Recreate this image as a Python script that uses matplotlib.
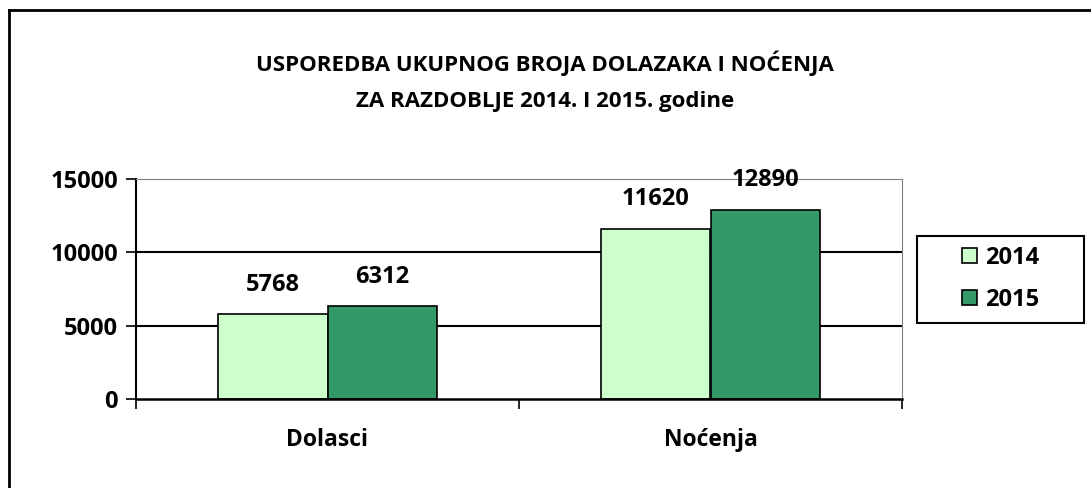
import matplotlib
matplotlib.use('Agg')
import matplotlib.pyplot as plt
import numpy as np
from matplotlib.patches import Rectangle
from matplotlib.lines import Line2D

categories = ['Dolasci', 'Noćenja']
years = ['2014', '2015']
values_2014 = [5768, 11620]
values_2015 = [6312, 12890]
colors = ['#CCFFCC', '#339966']
title = 'USPOREDBA UKUPNOG BROJA DOLAZAKA I NOĆENJA\nZA RAZDOBLJE 2014. I 2015. godine'

plt.rcParams['font.family'] = ['Open Sans', 'DejaVu Sans']
plt.rcParams['font.weight'] = 'bold'

W, H = 1091, 488
fig = plt.figure(figsize=(W / 100, H / 100), dpi=100)
ax = fig.add_axes([136 / W, 1 - 399 / H, (902 - 136) / W, (399 - 179) / H])

pos = np.arange(len(categories))
width = 0.287
series = [values_2014, values_2015]
offsets = [-width / 2, width / 2]
for vals, off, col, lab in zip(series, offsets, colors, years):
    bars = ax.bar(pos + off, vals, width, color=col, edgecolor='black',
                  linewidth=1.2, label=lab, zorder=3)
    for b, v in zip(bars, vals):
        ax.annotate(str(v), (b.get_x() + b.get_width() / 2, v),
                    xytext=(0, 17), textcoords='offset points',
                    ha='center', va='baseline', fontsize=17,
                    fontweight='bold', zorder=5)

ax.set_xlim(-0.5, 1.5)
ax.set_ylim(0, 15000)
ax.set_yticks([0, 5000, 10000, 15000])
ax.tick_params(axis='y', labelsize=17, length=7, width=1.2, direction='out', pad=6)
ax.set_xticks(pos)
ax.set_xticklabels(categories, fontsize=16.5, fontweight='bold')
ax.tick_params(axis='x', which='major', length=0, pad=21)
ax.set_xticks([-0.5, 0.5, 1.5], minor=True)
ax.tick_params(axis='x', which='minor', length=7, width=1.2, direction='out')
for lab in ax.get_yticklabels():
    lab.set_fontweight('bold')
for y in [5000, 10000]:
    ax.axhline(y, color='black', linewidth=1.5, zorder=1)
ax.spines['left'].set_linewidth(1.5)
ax.spines['bottom'].set_linewidth(1.8)
ax.spines['bottom'].set_zorder(4)
ax.spines['top'].set_color('#808080')
ax.spines['right'].set_color('#808080')

fig.text(545 / W, 1 - 81 / H, title, ha='center', va='center', fontsize=16,
         fontweight='bold', linespacing=1.95)

# legend
fig.patches.append(Rectangle((917 / W, 1 - 323 / H), (1084 - 917) / W, (323 - 236) / H,
                             transform=fig.transFigure, fill=False,
                             edgecolor='black', linewidth=1.5))
handles = [Rectangle((0, 0), 1, 1, facecolor=c, edgecolor='black', linewidth=1.2)
           for c in colors]
fig.legend(handles, years, loc='center', bbox_to_anchor=(1001 / W, 1 - 279 / H),
           frameon=False, handlelength=0.62, handleheight=0.62,
           handletextpad=0.35, labelspacing=0.75, prop={'weight': 'bold', 'size': 17})

# outer chart border
fig.add_artist(Line2D([9 / W, 9 / W], [0, 1 - 10 / H], transform=fig.transFigure,
                      color='black', linewidth=2))
fig.add_artist(Line2D([9 / W, 1], [1 - 10 / H, 1 - 10 / H], transform=fig.transFigure,
                      color='black', linewidth=2))

fig.savefig('out.png', dpi=100)
